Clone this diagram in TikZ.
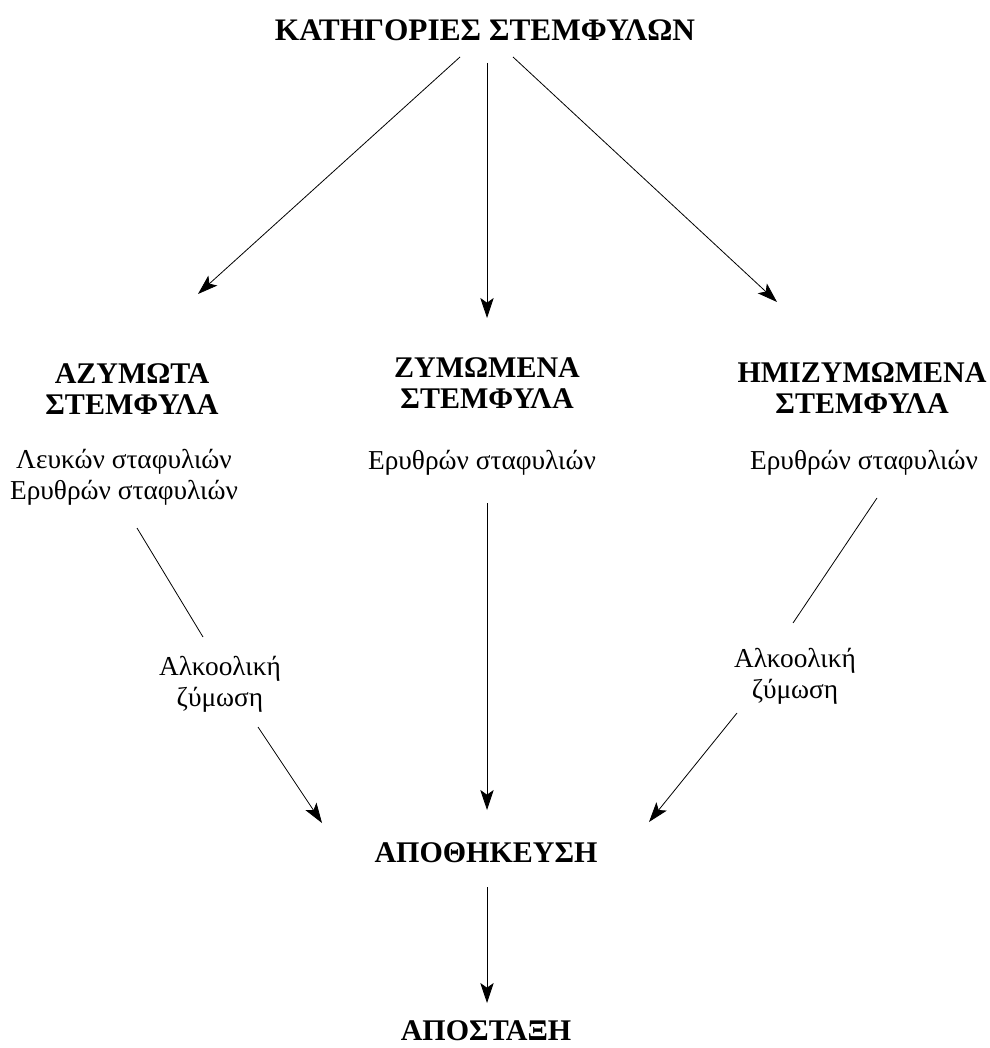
\documentclass[tikz,border=0pt]{standalone}
\usepackage{fontspec}
\setmainfont{Liberation Serif}
\usetikzlibrary{arrows.meta, positioning, calc}

\begin{document}
\begin{tikzpicture}[x=0.75pt, y=-0.75pt,
    head/.style={font=\fontsize{22.5}{23.5}\selectfont\bfseries, align=center, inner sep=0pt},
    txt/.style={font=\fontsize{20.5}{23.5}\selectfont, align=center, inner sep=0pt},
    arr/.style={line width=0.6pt, -{Stealth[length=15pt, width=10pt, inset=3.5pt]}},
    ln/.style={line width=0.6pt}]
    \useasboundingbox (0,0) rectangle (989,1048);

    \node[head, font=\fontsize{23.5}{22}\selectfont\bfseries] (kat) at (485,30) {ΚΑΤΗΓΟΡΙΕΣ ΣΤΕΜΦΥΛΩΝ};
    \node[head] (azym) at (132,389) {ΑΖΥΜΩΤΑ\\ΣΤΕΜΦΥΛΑ};
    \node[head] (zym) at (487,383) {ΖΥΜΩΜΕΝΑ\\ΣΤΕΜΦΥΛΑ};
    \node[head] (hmiz) at (862,388) {ΗΜΙΖΥΜΩΜΕΝΑ\\ΣΤΕΜΦΥΛΑ};

    \node[txt] (lev) at (124,477) {Λευκών σταφυλιών\\Ερυθρών σταφυλιών};
    \node[txt] (ery) at (482,463) {Ερυθρών σταφυλιών};
    \node[txt] (ery2) at (864,463) {Ερυθρών σταφυλιών};

    \node[txt] (alk) at (220,684) {Αλκοολική\\ζύμωση};
    \node[txt] (alk2) at (795,676) {Αλκοολική\\ζύμωση};

    \node[head] (apoth) at (486,853) {ΑΠΟΘΗΚΕΥΣΗ};
    \node[head] (apost) at (486,1031) {ΑΠΟΣΤΑΞΗ};

    \draw[arr] ([shift={(-25,27)}]kat.center) -- ([shift={(66,-95)}]azym.center);
    \draw[arr] ([shift={(2,33)}]kat.center) -- ([shift={(0,-65)}]zym.center);
    \draw[arr] ([shift={(28,27)}]kat.center) -- ([shift={(-85,-86)}]hmiz.center);

    \draw[ln] ([shift={(13,51)}]lev.center) -- ([shift={(-17,-47)}]alk.center);
    \draw[arr] ([shift={(38,43)}]alk.center) -- ([shift={(-164,-30)}]apoth.center);
    \draw[arr] ([shift={(5,40)}]ery.center) -- ([shift={(1,-43)}]apoth.center);
    \draw[ln] ([shift={(13,35)}]ery2.center) -- ([shift={(-2,-53)}]alk2.center);
    \draw[arr] ([shift={(-58,37)}]alk2.center) -- ([shift={(163,-31)}]apoth.center);

    \draw[arr] ([shift={(1,34)}]apoth.center) -- ([shift={(1,-28)}]apost.center);
\end{tikzpicture}
\end{document}
